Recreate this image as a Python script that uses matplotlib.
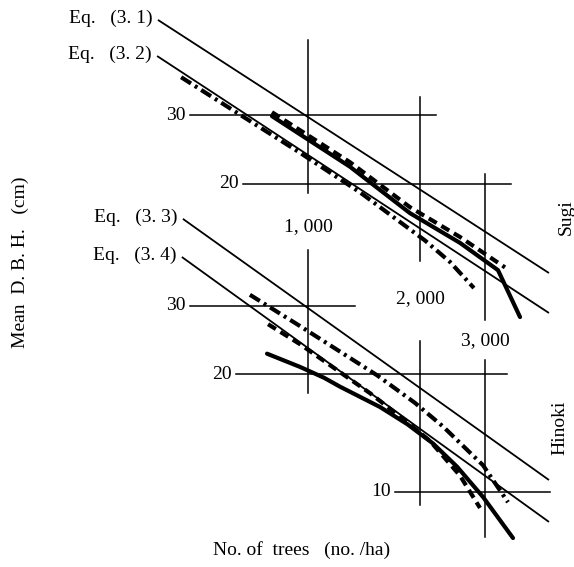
import matplotlib
matplotlib.use('Agg')
import matplotlib.pyplot as plt
import matplotlib.transforms as mtransforms

plt.rcParams['font.family'] = ['Liberation Serif', 'DejaVu Serif']

# --- Sugi (upper group) ---
eq31_n = [395, 4444]
eq31_d = [52.6, 11.8]
eq32_n = [393, 4444]
eq32_d = [42.5, 9.32]

sugi_dashdot_n = [456, 677, 952, 1380, 2063, 2408, 2793]
sugi_dashdot_d = [37.5, 29.5, 24.0, 19.0, 14.3, 12.6, 10.8]
sugi_solid_n = [800, 1297, 1881, 2562, 3242, 3715]
sugi_solid_d = [29.8, 22.1, 16.8, 14.1, 12.0, 9.1]
sugi_dash_n = [800, 1297, 1881, 2562, 3385]
sugi_dash_d = [30.5, 22.7, 17.4, 14.6, 12.2]

# --- Hinoki (lower group) ---
eq33_n = [461, 4444]
eq33_d = [50.1, 10.72]
eq34_n = [458, 4444]
eq34_d = [40.0, 8.37]

hinoki_dashdot_n = [698, 952, 1533, 1939, 2307, 2954, 3448]
hinoki_dashdot_d = [32.0, 26.6, 19.9, 16.9, 14.7, 11.7, 9.4]
hinoki_dash_n = [781, 952, 1468, 1767, 2128, 2562, 2900]
hinoki_dash_d = [26.9, 23.9, 17.9, 15.6, 13.5, 11.0, 9.09]
hinoki_solid_n = [776, 952, 1105, 1219, 1561, 1850, 2168, 2515, 2954, 3557]
hinoki_solid_d = [22.6, 20.9, 19.6, 18.6, 16.5, 14.9, 13.3, 11.6, 9.7, 7.61]

# reference lines: value, start, end
sugi_vlines = [(1000, 46.7, 18.9), (2000, 33.4, 12.7), (3000, 21.2, 8.94)]
sugi_hlines = [(30, 482, 2208), (20, 669, 3513)]
hinoki_vlines = [(1000, 41.7, 17.9), (2000, 24.4, 9.25), (3000, 21.8, 7.66)]
hinoki_hlines = [(30, 482, 1338), (20, 640, 3428), (10, 1713, 4472)]

x_ticks = [1000, 2000, 3000]
x_tick_labels = ['1, 000', '2, 000', '3, 000']

fig = plt.figure(figsize=(5.74, 5.67), dpi=100)
ax_s = fig.add_axes([0, 0, 1, 1])
ax_h = fig.add_axes([0, 0, 1, 1])
for ax in (ax_s, ax_h):
    ax.set_xscale('log')
    ax.set_yscale('log')
    ax.set_xlim(148.6, 5189)
    ax.axis('off')
    ax.patch.set_alpha(0)
ax_s.set_ylim(2.080, 59.16)
ax_h.set_ylim(6.414, 182.4)

thin = dict(color='black', lw=1.3, solid_capstyle='butt')
grid = dict(color='black', lw=1.1)
thick = 3.0
fs = 14

def draw_group(ax, vlines, hlines, eqs, dashdot, dash, solid):
    for x, y0, y1 in vlines:
        ax.plot([x, x], [y0, y1], **grid)
    for y, x0, x1 in hlines:
        ax.plot([x0, x1], [y, y], **grid)
        ax.annotate(str(y), xy=(x0, y), xytext=(-3, 0), textcoords='offset points',
                    ha='right', va='center', fontsize=fs)
    for (n, d, label) in eqs:
        ax.plot(n, d, **thin)
        ax.annotate(label, xy=(n[0], d[0]), xytext=(-4, 1), textcoords='offset points',
                    ha='right', va='center', fontsize=fs)
    ax.plot(dashdot[0], dashdot[1], color='black', lw=thick,
            dashes=(2.8, 1.1, 0.7, 1.1))
    ax.plot(dash[0], dash[1], color='black', lw=thick, dashes=(2.2, 1.3))
    ax.plot(solid[0], solid[1], color='black', lw=thick, solid_capstyle='round',
            solid_joinstyle='round')

draw_group(ax_s, sugi_vlines, sugi_hlines,
           [(eq31_n, eq31_d, 'Eq.   (3. 1)'), (eq32_n, eq32_d, 'Eq.   (3. 2)')],
           (sugi_dashdot_n, sugi_dashdot_d), (sugi_dash_n, sugi_dash_d),
           (sugi_solid_n, sugi_solid_d))
draw_group(ax_h, hinoki_vlines, hinoki_hlines,
           [(eq33_n, eq33_d, 'Eq.   (3. 3)'), (eq34_n, eq34_d, 'Eq.   (3. 4)')],
           (hinoki_dashdot_n, hinoki_dashdot_d), (hinoki_dash_n, hinoki_dash_d),
           (hinoki_solid_n, hinoki_solid_d))

# tree-count labels sit in the gaps of the vertical lines
trans = mtransforms.blended_transform_factory(ax_s.transData, ax_s.transAxes)
for x, lab, yf in zip(x_ticks, x_tick_labels, [0.601, 0.473, 0.400]):
    ax_s.text(x, yf, lab, transform=trans, ha='center', va='center', fontsize=fs)

fig.text(0.986, 0.617, 'Sugi', rotation=90, ha='center', va='center', fontsize=fs)
fig.text(0.976, 0.245, 'Hinoki', rotation=90, ha='center', va='center', fontsize=fs)
fig.text(0.035, 0.538, 'Mean  D. B. H.   (cm)', rotation=90, ha='center', va='center',
         fontsize=fs)
fig.text(0.526, 0.030, 'No. of  trees   (no. /ha)', ha='center', va='center', fontsize=fs)

fig.savefig('out.png', dpi=100)
